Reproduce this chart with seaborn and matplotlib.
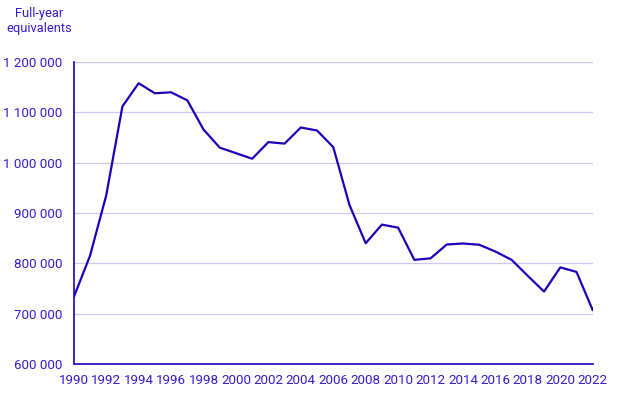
import pandas as pd
import seaborn as sns
import matplotlib.pyplot as plt
from matplotlib.ticker import FuncFormatter

# values
years = list(range(1990, 2023))
fte = [733000, 815000, 935000, 1112000, 1158000, 1138000, 1140000, 1124000,
       1066000, 1030000, 1019000, 1008000, 1041000, 1038000, 1070000, 1064000,
       1031000, 916000, 840000, 877000, 871000, 807000, 810000, 837500,
       839500, 837000, 823500, 807000, 775000, 744000, 792000, 783000, 707000]
yticks = [600000, 700000, 800000, 900000, 1000000, 1100000, 1200000]
xlabels = list(range(1990, 2023, 2))

df = pd.DataFrame({'Year': years, 'FTE': fte})

txt = '#3a1ad0'
line = '#1f00b8'
grid = '#cdc8f2'

sns.set_style('white')
plt.rcParams['font.family'] = ['Roboto', 'DejaVu Sans']

fig = plt.figure(figsize=(6.2, 3.98), dpi=100)
ax = fig.add_axes([0.119, 0.0854, 0.837, 0.7586])

sns.lineplot(data=df, x='Year', y='FTE', color=line, linewidth=1.6, ax=ax)

ax.set_xlim(1990, 2022)
ax.set_ylim(600000, 1200000)
ax.set_yticks(yticks)
ax.yaxis.set_major_formatter(FuncFormatter(lambda v, p: f'{int(v):,}'.replace(',', ' ')))
ax.set_xticks(years, minor=True)
ax.set_xticks(xlabels)
ax.set_xticklabels([str(y) for y in xlabels])
ax.grid(axis='y', color=grid, linewidth=0.9)
ax.set_axisbelow(True)

for s in ['top', 'right']:
    ax.spines[s].set_visible(False)
for s in ['left', 'bottom']:
    ax.spines[s].set_color(line)
    ax.spines[s].set_linewidth(1.2)

ax.tick_params(axis='x', which='both', direction='out', length=5, color=line,
               width=1.0, labelcolor=txt, labelsize=9.6, pad=2)
ax.tick_params(axis='y', length=5, color=line, width=1.0, labelcolor=txt,
               labelsize=9.6, pad=3)
ax.set_xlabel('')
ax.set_ylabel('')

fig.text(0.063, 0.947, 'Full-year\nequivalents', ha='center', va='center',
         color=txt, fontsize=9.3, linespacing=1.25)

fig.savefig('out.png', dpi=100)
